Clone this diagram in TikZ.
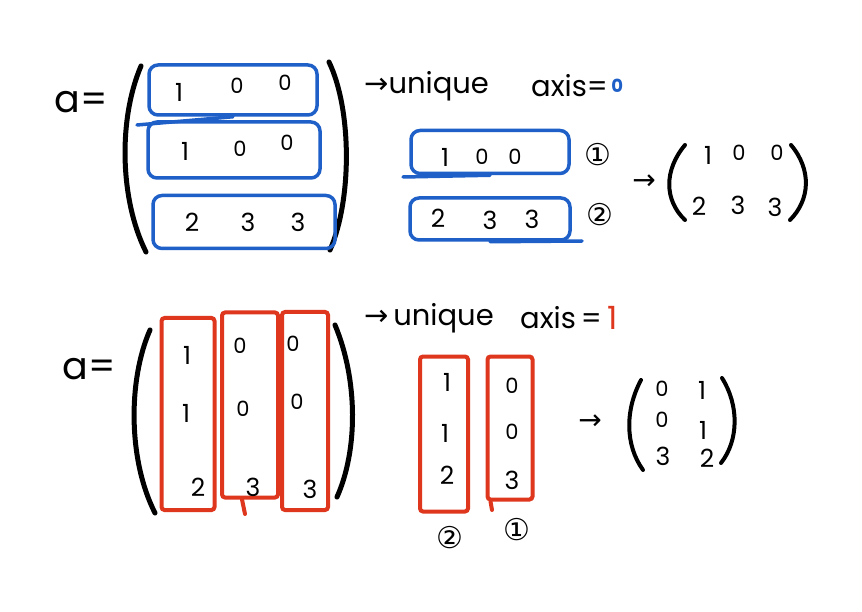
\documentclass[tikz,border=0pt]{standalone}
\usepackage{fontspec}
\setmainfont{Poppins}
\newfontfamily\dv{DejaVu Sans}
\definecolor{hblue}{RGB}{30,95,200}
\definecolor{hred}{RGB}{222,55,30}
\begin{document}
\begin{tikzpicture}[x=1pt,y=-1pt,
  fs/.style={inner sep=0pt,font=\fontsize{#1}{#1}\selectfont},
  num/.style={fs=25},
  zer/.style={fs=21},
  circ/.style={inner sep=0pt,font=\dv\fontsize{30}{30}\selectfont},
  harrow/.style={inner sep=0pt,font=\dv\fontsize{28}{28}\selectfont},
  bbox/.style 2 args={draw=hblue,line width=3.5pt,rounded corners=9pt,minimum width=#1,minimum height=#2,inner sep=0pt},
  rbox/.style 2 args={draw=hred,line width=4pt,rounded corners=3pt,minimum width=#1,minimum height=#2,inner sep=0pt},
  btail/.style={hblue,line width=3.5pt,line cap=round},
  rtail/.style={hred,line width=4pt,line cap=round},
  paren/.style={line width=5pt,line cap=round},
  sparen/.style={line width=4pt,line cap=round}]
\useasboundingbox (0,0) rectangle (862,612);
\fill[white] (0,0) rectangle (862,612);

% ---------------- top part ----------------
\node[fs=38] (a1) at (81,102) {a=};
\draw[paren] (141,66) .. controls (118,120) and (120,200) .. (146,252);
\draw[paren] (329,62) .. controls (352,110) and (352,200) .. (330,250);

\node[bbox={168pt}{50pt}] (r1) at (233,90) {};
\node[bbox={172pt}{56pt}] (r2) at (234,150) {};
\node[bbox={182pt}{53pt}] (r3) at (244,222) {};
\coordinate (t1) at (137,125);
\draw[btail] (r1.south) -- (t1);

\node[num] (e11) at (179,92) {1};
\node[zer] (e12) at (237,86) {0};
\node[zer] (e13) at (285,83) {0};
\node[num] (e21) at (185,151) {1};
\node[zer] (e22) at (240,149) {0};
\node[zer] (e23) at (287,143) {0};
\node[num] (e31) at (192,222) {2};
\node[num] (e32) at (248,222) {3};
\node[num] (e33) at (298,222) {3};

\node[fs=29,anchor=west] (u1) at (364,86) {{\dv →}unique};
\node[fs=29,anchor=west] (x1) at (531,86) {axis=};
\node[fs=18,text=hblue,anchor=west] (v1) at (x1.east) {\,\textbf{0}};

\node[bbox={158pt}{43pt}] (b1) at (490,152) {};
\node[bbox={160pt}{42pt}] (b2) at (490,219) {};
\coordinate (t2) at (403,177);
\coordinate (t3) at (582,241);
\draw[btail] (b1.south) -- (t2);
\draw[btail] (b2.south) -- (t3);
\node[num] (f11) at (445,157) {1};
\node[zer] (f12) at (482,157) {0};
\node[zer] (f13) at (515,157) {0};
\node[num] (f21) at (438,218) {2};
\node[num] (f22) at (490,220) {3};
\node[num] (f23) at (532,219) {3};
\node[circ] (c1) at (598,155) {①};
\node[circ] (c2) at (600,215) {②};

\node[harrow] (ar1) at (644,182) {→};
\draw[sparen] (685,145) .. controls (664,170) and (664,200) .. (685,220);
\draw[sparen] (791,145) .. controls (812,170) and (810,200) .. (790,220);
\node[num] (g11) at (708,155) {1};
\node[zer] (g12) at (739,153) {0};
\node[zer] (g13) at (777,153) {0};
\node[num] (g21) at (699,206) {2};
\node[num] (g22) at (738,205) {3};
\node[num] (g23) at (775,207) {3};

% ---------------- bottom part ----------------
\node[fs=38] (a2) at (89,369) {a=};
\draw[paren] (150,330) .. controls (128,380) and (128,460) .. (155,513);
\draw[paren] (335,325) .. controls (358,380) and (358,450) .. (337,497);

\node[rbox={53pt}{192pt}] (k1) at (188,414) {};
\node[rbox={56pt}{185pt}] (k2) at (250,405) {};
\node[rbox={46pt}{198pt}] (k3) at (305,411) {};
\coordinate (t4) at (245,514);
\draw[rtail] (k2.south west) ++(22pt,0) -- (t4);

\node[num] (h11) at (187,355) {1};
\node[num] (h21) at (186,413) {1};
\node[num] (h31) at (198,487) {2};
\node[zer] (h12) at (240,346) {0};
\node[zer] (h22) at (243,409) {0};
\node[num] (h32) at (253,487) {3};
\node[zer] (h13) at (293,344) {0};
\node[zer] (h23) at (297,402) {0};
\node[num] (h33) at (310,489) {3};

\node[fs=29,anchor=west] (u2) at (364,318) {{\dv →}\,unique};
\node[fs=29,anchor=west] (x2) at (520,318) {axis\,=};
\node[fs=32,text=hred,anchor=west] (v2) at (x2.east) {\,1};

\node[rbox={48pt}{155pt}] (d1) at (444,434) {};
\node[rbox={45pt}{143pt}] (d2) at (510,428) {};
\coordinate (t5) at (492,510);
\draw[rtail] (d2.south west) ++(5pt,0) -- (t5);
\node[num] (m11) at (447,382) {1};
\node[num] (m21) at (445,433) {1};
\node[num] (m31) at (447,475) {2};
\node[zer] (m12) at (512,386) {0};
\node[zer] (m22) at (512,432) {0};
\node[num] (m32) at (512,480) {3};
\node[circ] (c3) at (450,538) {②};
\node[circ] (c4) at (517,530) {①};

\node[harrow] (ar2) at (590,422) {→};
\draw[sparen] (641,380) .. controls (625,410) and (625,445) .. (643,470);
\draw[sparen] (722,378) .. controls (739,405) and (739,440) .. (721,463);
\node[zer] (n11) at (662,389) {0};
\node[num] (n12) at (702,390) {1};
\node[zer] (n21) at (662,420) {0};
\node[num] (n22) at (703,430) {1};
\node[num] (n31) at (663,456) {3};
\node[num] (n32) at (707,458) {2};
\end{tikzpicture}
\end{document}
